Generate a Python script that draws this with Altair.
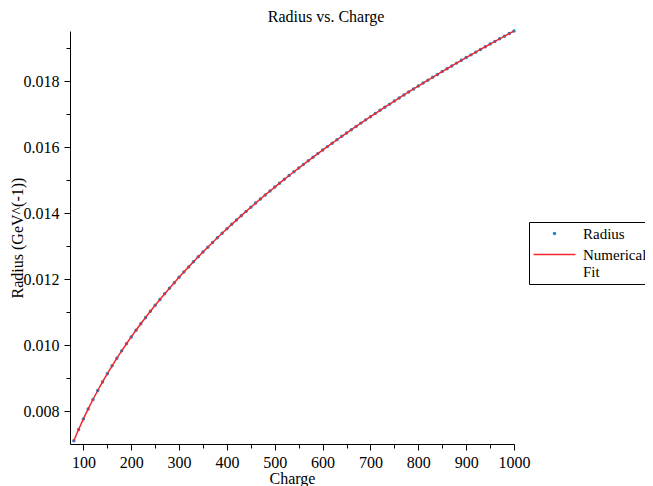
import altair as alt
import pandas as pd

charge = list(range(80, 1001, 10))
radius = [
    0.007108, 0.007451, 0.007771, 0.008073, 0.008359, 0.008631, 0.008891, 0.009139,
    0.009378, 0.009609, 0.009831, 0.010046, 0.010254, 0.010456, 0.010652, 0.010843,
    0.011030, 0.011211, 0.011389, 0.011562, 0.011731, 0.011897, 0.012059, 0.012219,
    0.012375, 0.012528, 0.012679, 0.012826, 0.012972, 0.013115, 0.013255, 0.013394,
    0.013530, 0.013664, 0.013797, 0.013927, 0.014056, 0.014183, 0.014308, 0.014432,
    0.014554, 0.014675, 0.014793, 0.014911, 0.015027, 0.015142, 0.015256, 0.015368,
    0.015480, 0.015589, 0.015698, 0.015806, 0.015913, 0.016018, 0.016123, 0.016226,
    0.016329, 0.016430, 0.016531, 0.016631, 0.016730, 0.016828, 0.016925, 0.017021,
    0.017117, 0.017211, 0.017305, 0.017398, 0.017491, 0.017582, 0.017673, 0.017764,
    0.017853, 0.017942, 0.018030, 0.018118, 0.018205, 0.018292, 0.018377, 0.018462,
    0.018547, 0.018631, 0.018715, 0.018797, 0.018880, 0.018962, 0.019043, 0.019124,
    0.019204, 0.019284, 0.019363, 0.019442, 0.019520,
]
fit_radius = list(radius)

x_ticks = [100, 150, 200, 250, 300, 350, 400, 450, 500, 550, 600, 650, 700, 750, 800, 850, 900, 950, 1000]
y_ticks = [0.008, 0.009, 0.010, 0.011, 0.012, 0.013, 0.014, 0.015, 0.016, 0.017, 0.018, 0.019]

BLUE = "#1a86c8"
RED = "#f0282d"
FONT = "Liberation Serif"

pts = pd.DataFrame({"Charge": charge, "Radius": radius, "series": "Radius"})
fit = pd.DataFrame({"Charge": charge, "Radius": fit_radius, "series": "Numerical Fit"})

x_enc = alt.X(
    "Charge:Q",
    scale=alt.Scale(domain=[72, 1000], nice=False, zero=False),
    axis=alt.Axis(
        values=x_ticks,
        format="d",
        labelExpr="datum.value % 100 === 0 ? datum.label : ''",
        tickSize={"condition": {"test": "datum.value % 100 === 0", "value": 6}, "value": 4},
        labelPadding=4,
        labelFlush=False,
        labelOverlap=False,
        grid=False,
        title="Charge",
        titleY=39,
        titleBaseline="alphabetic",
    ),
)
y_enc = alt.Y(
    "Radius:Q",
    scale=alt.Scale(domain=[0.00701, 0.01952], nice=False, zero=False),
    axis=alt.Axis(
        values=y_ticks,
        labelExpr="round(datum.value * 1000) % 2 === 0 ? format(datum.value, '.3f') : ''",
        tickSize={"condition": {"test": "round(datum.value * 1000) % 2 === 0", "value": 6}, "value": 4},
        labelPadding=5,
        labelFlush=False,
        grid=False,
        title="Radius (GeV^(-1))",
        titleX=-53,
        titleY=206.5,
        titleAngle=-90,
        titleBaseline="middle",
        titleAlign="center",
    ),
)
color = alt.Color(
    "series:N",
    scale=alt.Scale(domain=["Radius", "Numerical Fit"], range=[BLUE, RED]),
    legend=alt.Legend(
        title=None,
        orient="none",
        legendX=459,
        legendY=191,
        strokeColor="black",
        padding=4,
        rowPadding=5,
        symbolOffset=14,
        labelOffset=21,
        symbolType={"expr": "datum.value === 'Radius' ? 'circle' : 'M-7,0L7,0'"},
        symbolSize={"expr": "datum.value === 'Radius' ? 4 : 36"},
        symbolStrokeWidth=1.5,
        labelExpr="datum.label === 'Numerical Fit' ? ['Numerical', 'Fit'] : datum.label",
    ),
)

points = alt.Chart(pts).mark_circle(size=12, opacity=1).encode(x=x_enc, y=y_enc, color=color)
line = alt.Chart(fit).mark_line(strokeWidth=1.5).encode(x=x_enc, y=y_enc, color=color)

chart = (
    alt.layer(points, line)
    .properties(
        width=444,
        height=413,
        autosize=alt.AutoSizeParams(type="none"),
        padding={"left": 62, "top": 23, "right": 131, "bottom": 42},
        title=alt.TitleParams(
            "Radius vs. Charge",
            anchor="middle",
            dx=34,
            offset=3,
            font=FONT,
            fontSize=16,
            fontWeight="normal",
            color="black",
        ),
    )
    .configure_view(stroke=None)
    .configure_axis(
        domainColor="black",
        tickColor="black",
        labelColor="black",
        titleColor="black",
        labelFont=FONT,
        titleFont=FONT,
        labelFontSize=16,
        titleFontSize=16,
        titleFontWeight="normal",
    )
    .configure_legend(labelFont=FONT, labelFontSize=15, labelColor="black")
)

chart.save("out.html", embed_options={"renderer": "svg", "actions": False})
